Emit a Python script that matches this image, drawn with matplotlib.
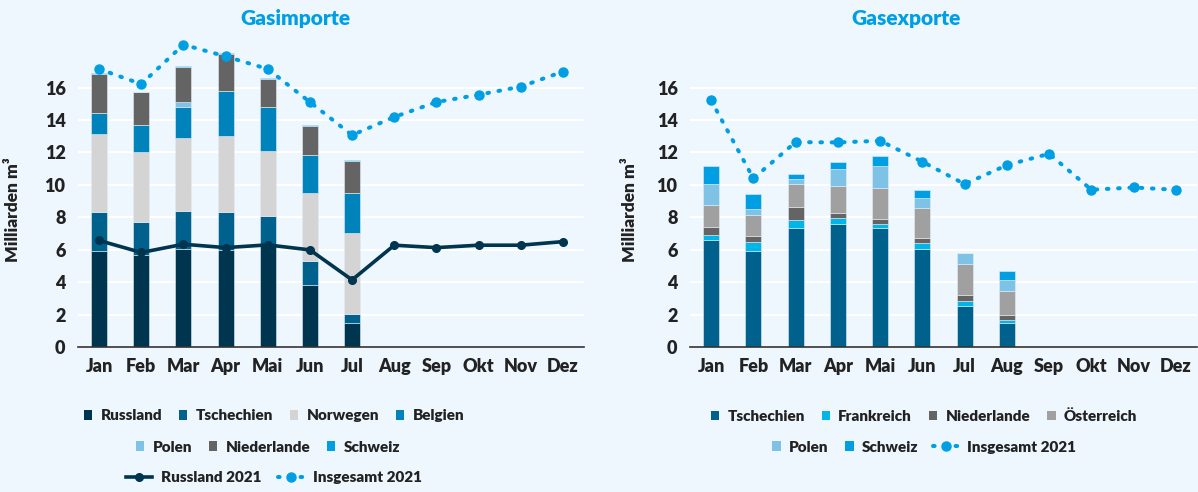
import matplotlib.pyplot as plt
from matplotlib.patches import Patch
from matplotlib.lines import Line2D
import numpy as np

plt.rcParams['font.family'] = ['Lato', 'DejaVu Sans']
FW = "heavy"
plt.rcParams['font.weight'] = FW

# ------------------------------------------------------------------
# Daten (Mrd. m³)
# ------------------------------------------------------------------
monate = ["Jan", "Feb", "Mar", "Apr", "Mai", "Jun", "Jul", "Aug", "Sep", "Okt", "Nov", "Dez"]

# Importe 2022 nach Herkunft (Jan-Jul)
imp_russland    = [5.95, 5.70, 6.07, 5.99, 6.30, 3.85, 1.50]
imp_tschechien  = [2.37, 2.02, 2.33, 2.31, 1.81, 1.48, 0.54]
imp_norwegen    = [4.82, 4.28, 4.51, 4.71, 3.98, 4.16, 4.98]
imp_belgien     = [1.27, 1.69, 1.89, 2.78, 2.71, 2.35, 2.47]
imp_polen       = [0.00, 0.00, 0.33, 0.00, 0.00, 0.00, 0.00]
imp_niederlande = [2.45, 2.02, 2.14, 2.27, 1.73, 1.79, 2.00]
imp_schweiz     = [0.05, 0.05, 0.07, 0.06, 0.07, 0.08, 0.06]

imp_russland_2021  = [6.57, 5.83, 6.34, 6.13, 6.30, 5.99, 4.14, 6.28, 6.13, 6.28, 6.28, 6.50]
imp_insgesamt_2021 = [17.15, 16.22, 18.65, 17.93, 17.15, 15.11, 13.07, 14.19, 15.11, 15.56, 16.06, 16.99]

# Exporte 2022 nach Ziel (Jan-Aug)
exp_tschechien  = [6.61, 5.95, 7.37, 7.60, 7.37, 6.05, 2.55, 1.50]
exp_frankreich  = [0.31, 0.52, 0.45, 0.33, 0.23, 0.35, 0.27, 0.17]
exp_niederlande = [0.51, 0.35, 0.83, 0.35, 0.31, 0.31, 0.41, 0.33]
exp_oesterreich = [1.30, 1.35, 1.38, 1.68, 1.87, 1.89, 1.92, 1.44]
exp_polen       = [1.34, 0.37, 0.35, 1.03, 1.40, 0.58, 0.64, 0.72]
exp_schweiz     = [1.11, 0.89, 0.31, 0.44, 0.60, 0.52, 0.00, 0.51]

exp_insgesamt_2021 = [15.21, 10.40, 12.64, 12.62, 12.72, 11.43, 10.05, 11.22, 11.92, 9.70, 9.84, 9.70]

# ------------------------------------------------------------------
# Farben
# ------------------------------------------------------------------
BG = "#EEF6FE"
C_RUS = "#00354F"
C_CZ = "#00628C"
C_NO = "#D4D4D4"
C_BE = "#0083BA"
C_PL = "#7EC3E5"
C_NL = "#646464"
C_CH = "#009FE3"
C_FR = "#00B5E8"
C_AT = "#A0A0A0"
C_LINE = "#009FE3"
C_TEXT = "#222222"

W, H = 1198, 492
fig = plt.figure(figsize=(W / 100, H / 100), dpi=100, facecolor=BG)
ax1 = fig.add_axes([78 / W, 1 - 347 / H, 506 / W, 308 / H])
ax2 = fig.add_axes([690 / W, 1 - 347 / H, 507 / W, 308 / H])

x = np.arange(12)
bw = 0.38
DOTS = (0, (0.4, 2.4))


def stapeln(ax, reihen):
    n = len(reihen[0][0])
    unten = np.zeros(n)
    for werte, farbe in reihen:
        w = np.array(werte)
        ax.bar(x[:n], w, bw, bottom=unten, color=farbe, edgecolor="#E3EEF6",
               linewidth=0.4, zorder=2)
        unten += w


def achse_stil(ax, ylab_x):
    ax.set_facecolor(BG)
    ax.set_xlim(-0.5, 11.5)
    ax.set_ylim(0, 19.0)
    ax.set_yticks(range(0, 17, 2))
    ax.set_xticks(x)
    ax.set_xticklabels(monate)
    ax.grid(axis="y", color="white", lw=1.6, zorder=0)
    ax.set_axisbelow(True)
    for s in ["top", "right", "left"]:
        ax.spines[s].set_visible(False)
    ax.spines["bottom"].set_color("#333333")
    ax.spines["bottom"].set_linewidth(1.2)
    ax.tick_params(length=0, labelsize=13, colors=C_TEXT, pad=8)
    ax.tick_params(axis="y", pad=9)
    for lab in ax.get_xticklabels() + ax.get_yticklabels():
        lab.set_fontweight(FW)
    ax.set_ylabel("Milliarden m³", fontsize=12.5, fontweight=FW, color=C_TEXT)
    ax.yaxis.set_label_coords(ylab_x, 0.445)


def insgesamt_linie(ax, werte):
    ax.plot(x, werte, color=C_LINE, lw=2.9, ls=DOTS, dash_capstyle="round",
            marker="o", ms=6.5, zorder=4)


# --- Gasimporte ---
stapeln(ax1, [(imp_russland, C_RUS), (imp_tschechien, C_CZ), (imp_norwegen, C_NO),
              (imp_belgien, C_BE), (imp_polen, C_PL), (imp_niederlande, C_NL),
              (imp_schweiz, C_CH)])
ax1.plot(x, imp_russland_2021, color=C_RUS, lw=2.6, marker="o", ms=5.5, zorder=3)
insgesamt_linie(ax1, imp_insgesamt_2021)
achse_stil(ax1, (21 - 78) / 506)

# --- Gasexporte ---
stapeln(ax2, [(exp_tschechien, C_CZ), (exp_frankreich, C_FR), (exp_niederlande, C_NL),
              (exp_oesterreich, C_AT), (exp_polen, C_PL), (exp_schweiz, C_CH)])
insgesamt_linie(ax2, exp_insgesamt_2021)
achse_stil(ax2, (638 - 690) / 507)

fig.text(295 / W, 1 - 18 / H, "Gasimporte", color=C_LINE, fontsize=15,
         fontweight=FW, ha="center", va="center")
fig.text(906 / W, 1 - 18 / H, "Gasexporte", color=C_LINE, fontsize=15,
         fontweight=FW, ha="center", va="center")

# ------------------------------------------------------------------
# Legenden (zeilenweise zentriert, Gruppen nebeneinander gesetzt)
# ------------------------------------------------------------------
lin_rus = Line2D([], [], color=C_RUS, lw=2.6, marker="o", ms=5.5)
lin_ges = Line2D([], [], color=C_LINE, lw=2.9, ls=DOTS, dash_capstyle="round",
                 marker="o", ms=6.5)


def sq(c):
    return Patch(facecolor=c, edgecolor="none")


def zeile(gruppen, xc, yc, gap=14):
    legs = []
    for handles, labels, hl in gruppen:
        lg = fig.legend(handles, labels, loc="center left", bbox_to_anchor=(0, 1 - yc / H),
                        ncol=len(handles), frameon=False, fontsize=11, handlelength=hl,
                        handleheight=0.55, handletextpad=0.55, columnspacing=1.1,
                        borderpad=0, borderaxespad=0, labelcolor=C_TEXT)
        for t in lg.get_texts():
            t.set_fontweight(FW)
        legs.append(lg)
    r = fig.canvas.get_renderer()
    breiten = [lg.get_window_extent(r).width for lg in legs]
    x0 = xc - (sum(breiten) + gap * (len(legs) - 1)) / 2
    for lg, b in zip(legs, breiten):
        lg.set_bbox_to_anchor((x0 / W, 1 - yc / H), transform=fig.transFigure)
        x0 += b + gap


zeile([([sq(C_RUS), sq(C_CZ), sq(C_NO), sq(C_BE)],
        ["Russland", "Tschechien", "Norwegen", "Belgien"], 0.55)], 274, 416)
zeile([([sq(C_PL), sq(C_NL), sq(C_CH)], ["Polen", "Niederlande", "Schweiz"], 0.55)], 268, 447)
zeile([([lin_rus], ["Russland 2021"], 1.7), ([lin_ges], ["Insgesamt 2021"], 1.7)],
      274, 478, gap=17)

zeile([([sq(C_CZ), sq(C_FR), sq(C_NL), sq(C_AT)],
        ["Tschechien", "Frankreich", "Niederlande", "Österreich"], 0.55)], 924, 416)
zeile([([sq(C_PL), sq(C_CH)], ["Polen", "Schweiz"], 0.55), ([lin_ges], ["Insgesamt 2021"], 1.7)],
      924, 447)

fig.savefig("out.png", dpi=100, facecolor=BG)
